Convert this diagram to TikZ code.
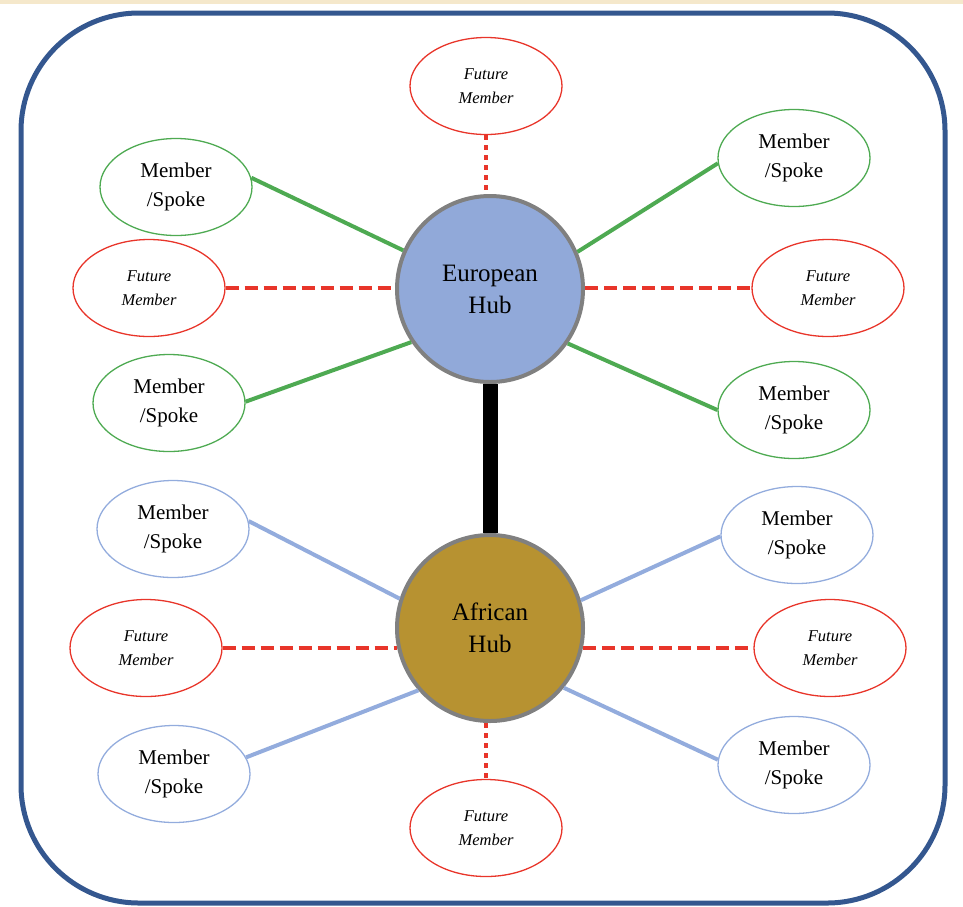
\documentclass[tikz,border=0pt]{standalone}
\usepackage{fontspec}
\setmainfont{Liberation Serif}
\usetikzlibrary{shapes.geometric}
\definecolor{frameblue}{HTML}{34578F}
\definecolor{beige}{HTML}{F5E8CB}
\definecolor{mgreen}{HTML}{4EAA52}
\definecolor{mred}{HTML}{E8352A}
\definecolor{mblue}{HTML}{93ACDD}
\definecolor{eufill}{HTML}{91A9D9}
\definecolor{affill}{HTML}{B79231}
\definecolor{hubline}{HTML}{808080}
\tikzset{
  ell/.style={ellipse, line width=1.3pt, minimum width=152pt, minimum height=97pt, inner sep=0pt, align=center},
  memgreen/.style={ell, draw=mgreen, font=\fontsize{21}{29}\selectfont},
  memblue/.style={ell, draw=mblue, font=\fontsize{21}{29}\selectfont},
  future/.style={ell, draw=mred, font=\fontsize{16.5}{24}\selectfont\itshape},
  hub/.style={circle, draw=hubline, line width=4pt, minimum size=186pt, inner sep=0pt, align=center, font=\fontsize{25}{32}\selectfont},
  glink/.style={mgreen, line width=4pt},
  blink/.style={mblue, line width=4pt},
  dashlink/.style={mred, line width=4pt, dash pattern=on 13pt off 6pt},
  dotlink/.style={mred, line width=4pt, dash pattern=on 5pt off 5pt},
}
\begin{document}
\begin{tikzpicture}[x=1pt,y=-1pt]
\useasboundingbox (0,0) rectangle (963,906);
\fill[beige] (0,0) rectangle (963,3.5);
\draw[frameblue, line width=5pt, rounded corners=118pt] (21,13) rectangle (945,903);

\node[hub, fill=eufill] (eu) at (490,289) {European\\Hub};
\node[hub, fill=affill] (af) at (490,628) {African\\Hub};

\node[future] (ft) at (486,86) {Future\\Member};
\node[future] (fb) at (486,828) {Future\\Member};
\node[memgreen] (g1) at (176,187) {Member\\/Spoke};
\node[future] (f1) at (149,288) {Future\\Member};
\node[memgreen] (g2) at (169,403) {Member\\/Spoke};
\node[memblue] (b1) at (173,529) {Member\\/Spoke};
\node[future] (f2) at (146,648) {Future\\Member};
\node[memblue] (b2) at (174,774) {Member\\/Spoke};
\node[memgreen] (g3) at (794,158) {Member\\/Spoke};
\node[future] (f3) at (828,288) {Future\\Member};
\node[memgreen] (g4) at (794,410) {Member\\/Spoke};
\node[memblue] (b3) at (797,535) {Member\\/Spoke};
\node[future] (f4) at (830,648) {Future\\Member};
\node[memblue] (b4) at (794,765) {Member\\/Spoke};

\draw[black, line width=15pt] (eu.south) -- (af.north);

\draw[glink] (g1.7) -- (eu.156);
\draw[glink] (g2.1) -- (eu.214);
\draw[glink] (g3.184) -- (eu.23);
\draw[glink] (g4.180) -- (eu.325);
\draw[dashlink] (f1.east) -- (eu.west |- f1.east);
\draw[dashlink] (eu.east |- f3.west) -- (f3.west);
\draw[dotlink] (ft.south) -- (ft.south |- eu.north);

\draw[blink] (b1.6) -- (af.162);
\draw[blink] (b2.13) -- (af.221);
\draw[blink] (b3.181) -- (af.17);
\draw[blink] (b4.176) -- (af.321);
\draw[dashlink] (f2.east) -- (af.192 |- f2.east);
\draw[dashlink] (af.-12 |- f4.west) -- (f4.west);
\draw[dotlink] (fb.north |- af.south) -- (fb.north);
\end{tikzpicture}
\end{document}
